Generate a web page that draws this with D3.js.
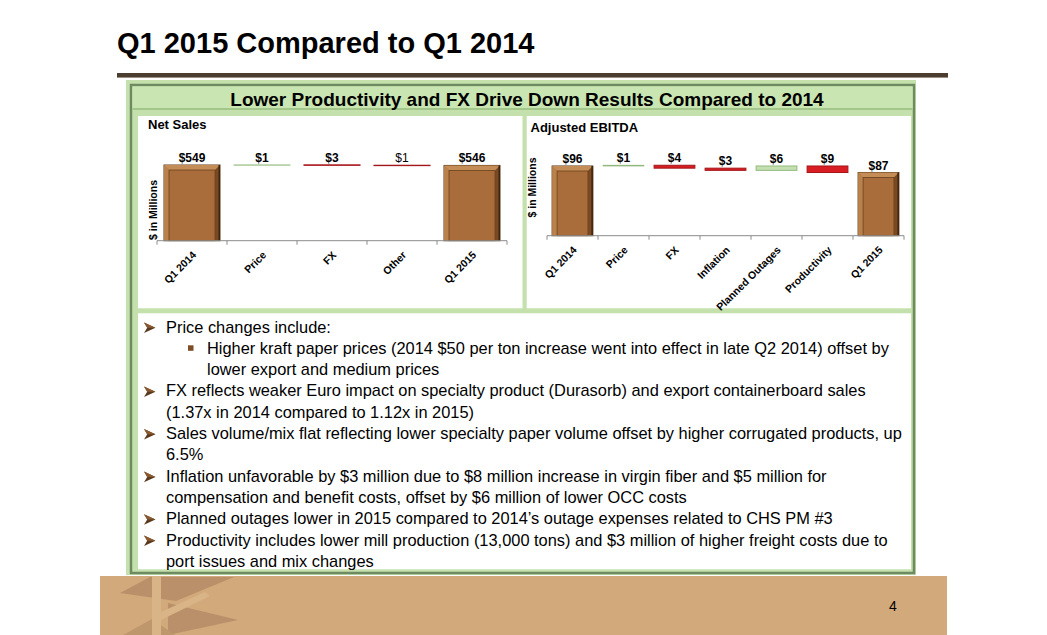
<!DOCTYPE html>
<html>
<head>
<meta charset="utf-8">
<script src="https://cdn.jsdelivr.net/npm/d3@7"></script>
<style>
  html, body { margin: 0; padding: 0; background: #ffffff; }
  svg { display: block; font-family: "Liberation Sans", Arial, sans-serif; }
</style>
</head>
<body>
<script>
// ---------------- DATA ----------------
const slideTitle = "Q1 2015 Compared to Q1 2014";
const headerText = "Lower Productivity and FX Drive Down Results Compared to 2014";
const pageNumber = "4";

const netTitle = "Net Sales";
const netCategories = ["Q1 2014", "Price", "FX", "Other", "Q1 2015"];
const netValues = [549, 1, -3, -1, 546];
const netKinds = ["total", "delta", "delta", "delta", "total"];

const ebitdaTitle = "Adjusted EBITDA";
const ebitdaCategories = ["Q1 2014", "Price", "FX", "Inflation", "Planned Outages", "Productivity", "Q1 2015"];
const ebitdaValues = [96, 1, -4, -3, 6, -9, 87];
const ebitdaKinds = ["total", "delta", "delta", "delta", "delta", "delta", "total"];

const yAxisTitle = "$ in Millions";

const bulletLines = [
  { bullet: "arrow", level: 1, text: "Price changes include:" },
  { bullet: "square", level: 2, text: "Higher kraft paper prices (2014 $50 per ton increase went into effect in late Q2 2014) offset by" },
  { bullet: "none", level: 2, text: "lower export and medium prices" },
  { bullet: "arrow", level: 1, text: "FX reflects weaker Euro impact on specialty product (Durasorb) and export containerboard sales" },
  { bullet: "none", level: 1, text: "(1.37x in 2014 compared to 1.12x in 2015)" },
  { bullet: "arrow", level: 1, text: "Sales volume/mix flat reflecting lower specialty paper volume offset by higher corrugated products, up" },
  { bullet: "none", level: 1, text: "6.5%" },
  { bullet: "arrow", level: 1, text: "Inflation unfavorable by $3 million due to $8 million increase in virgin fiber and $5 million for" },
  { bullet: "none", level: 1, text: "compensation and benefit costs, offset by $6 million of lower OCC costs" },
  { bullet: "arrow", level: 1, text: "Planned outages lower in 2015 compared to 2014\u2019s outage expenses related to CHS PM #3" },
  { bullet: "arrow", level: 1, text: "Productivity includes lower mill production (13,000 tons) and $3 million of higher freight costs due to" },
  { bullet: "none", level: 1, text: "port issues and mix changes" }
];

// label styling (not data)
const regularWeightLabels = new Set(["Other"]);

// ---------------- DRAW ----------------
const W = 1047, H = 635;
const svg = d3.select("body").append("svg").attr("width", W).attr("height", H);

svg.append("rect").attr("width", W).attr("height", H).attr("fill", "#ffffff");

// Title
svg.append("text").attr("x", 117).attr("y", 53)
  .attr("font-size", 29).attr("font-weight", "bold").attr("fill", "#000")
  .text(slideTitle);

// Rule
svg.append("rect").attr("x", 117).attr("y", 73).attr("width", 831).attr("height", 4).attr("fill", "#4b3e30");
svg.append("rect").attr("x", 117).attr("y", 77).attr("width", 831).attr("height", 1).attr("fill", "#9a8f84");

// Footer band
svg.append("rect").attr("x", 100).attr("y", 576).attr("width", 847).attr("height", 59).attr("fill", "#d2a97b");
// stylised logo
const logo = svg.append("g");
logo.append("path").attr("d", "M120,593 L150,577 L234,577 L176,601 Z").attr("fill", "#b99069");
logo.append("path").attr("d", "M168,603 L238,620 L168,635 Z").attr("fill", "#b99069");
logo.append("path").attr("d", "M123,635 L152,619 L175,635 Z").attr("fill", "#bf976d");
logo.append("rect").attr("x", 152).attr("y", 576).attr("width", 9).attr("height", 59).attr("fill", "#d8b487");
logo.append("path").attr("d", "M161,612 L205,592 L210,596 L161,620 Z").attr("fill", "#d8b487");

svg.append("text").attr("x", 893).attr("y", 611).attr("text-anchor", "middle")
  .attr("font-size", 14).attr("fill", "#000").text(pageNumber);

// Green frame
svg.append("rect").attr("x", 126).attr("y", 80).attr("width", 790).attr("height", 495).attr("fill", "#c4e0ad");
svg.append("rect").attr("x", 131).attr("y", 85).attr("width", 783).attr("height", 488)
  .attr("fill", "none").attr("stroke", "#6e8a60").attr("stroke-width", 2.5);
// header band
svg.append("rect").attr("x", 132.5).attr("y", 86.5).attr("width", 780).attr("height", 22).attr("fill", "#c9e6b2");
svg.append("rect").attr("x", 132.5).attr("y", 108).attr("width", 780).attr("height", 2).attr("fill", "#a3c68b");
svg.append("text").attr("x", 527).attr("y", 106).attr("text-anchor", "middle")
  .attr("font-size", 19).attr("font-weight", "bold").attr("fill", "#000").text(headerText);

// panels
svg.append("rect").attr("x", 138).attr("y", 116).attr("width", 384.5).attr("height", 192.3).attr("fill", "#fff");
svg.append("rect").attr("x", 526.7).attr("y", 116).attr("width", 384.3).attr("height", 192.3).attr("fill", "#fff");
svg.append("rect").attr("x", 138).attr("y", 313.3).attr("width", 773).attr("height", 256).attr("fill", "#fff");

// ---------- waterfall ----------
function buildBars(cats, vals, kinds) {
  let run = 0;
  return cats.map((c, i) => {
    const v = vals[i];
    if (kinds[i] === "total") { run = v; return { c, v, y0: 0, y1: v, kind: "total" }; }
    const y0 = run; run += v;
    return { c, v, y0, y1: run, kind: v >= 0 ? "up" : "down" };
  });
}

function drawTotal(g, x0, w, yTop, yBot) {
  const x1 = x0 + w, b = 5;
  g.append("rect").attr("x", x0).attr("y", yTop).attr("width", w).attr("height", yBot - yTop)
    .attr("fill", "#b07642").attr("stroke", "#5c3817").attr("stroke-width", 1);
  g.append("path").attr("d", `M${x0},${yTop} L${x1},${yTop} L${x1-b},${yTop+b} L${x0+b},${yTop+b} Z`).attr("fill", "#c48d58");
  g.append("path").attr("d", `M${x0},${yTop} L${x0+b},${yTop+b} L${x0+b},${yBot} L${x0},${yBot} Z`).attr("fill", "#b9814b");
  g.append("path").attr("d", `M${x1},${yTop} L${x1},${yBot} L${x1-b},${yBot} L${x1-b},${yTop+b} Z`).attr("fill", "#7a4a22");
  g.append("rect").attr("x", x1 - 1.5).attr("y", yTop).attr("width", 1.5).attr("height", yBot - yTop).attr("fill", "#3e2410");
  g.append("rect").attr("x", x0 + b).attr("y", yTop + b).attr("width", w - 2 * b).attr("height", yBot - yTop - b)
    .attr("fill", "#a86d3a").attr("stroke", "#6e421d").attr("stroke-width", 0.8);
}

function waterfall(opt) {
  const g = svg.append("g");
  const bars = buildBars(opt.categories, opt.values, opt.kinds);
  const x = d3.scaleBand().domain(opt.categories).range(opt.xRange).paddingInner(0.2).paddingOuter(0.1);
  const y = d3.scaleLinear().domain(opt.yDomain).range(opt.yRange);
  const axisY = y(0);

  // panel title
  g.append("text").attr("x", opt.titleX).attr("y", opt.titleY)
    .attr("font-size", 13).attr("font-weight", "bold").attr("fill", "#000").text(opt.title);

  // y axis title
  g.append("text").attr("transform", `translate(${opt.yTitleX},${opt.yTitleY}) rotate(-90)`)
    .attr("text-anchor", "middle").attr("font-size", 10.5).attr("font-weight", "bold").attr("fill", "#000")
    .text(yAxisTitle);

  // bars
  bars.forEach(d => {
    const bx = x(d.c), bw = x.bandwidth();
    if (d.kind === "total") {
      drawTotal(g, bx, bw, y(d.y1), axisY);
    } else {
      const top = y(Math.max(d.y0, d.y1));
      const h = Math.max(Math.abs(y(d.y0) - y(d.y1)), 0.3);
      const up = d.kind === "up";
      g.append("rect").attr("x", bx).attr("y", top).attr("width", bw).attr("height", h)
        .attr("fill", up ? "#c5e0b0" : "#d81e22")
        .attr("stroke", up ? "#93b97f" : "#a3161a").attr("stroke-width", h < 1 ? (up ? 0.8 : 1.1) : 1);
    }
  });

  // axis
  const axis = g.append("g").attr("transform", `translate(0,${axisY})`);
  axis.append("line").attr("x1", opt.xRange[0]).attr("x2", opt.xRange[1]).attr("stroke", "#8c8c8c").attr("stroke-width", 1);
  const bounds = opt.categories.map(c => x(c) - (x.step() - x.bandwidth()) / 2).concat([opt.xRange[1]]);
  axis.selectAll("line.tick").data(bounds).enter().append("line").attr("class", "tick")
    .attr("x1", d => d).attr("x2", d => d).attr("y1", 0).attr("y2", 4)
    .attr("stroke", "#8c8c8c").attr("stroke-width", 1);

  // category labels
  g.selectAll("text.cat").data(opt.categories).enter().append("text").attr("class", "cat")
    .attr("transform", c => `translate(${x(c) + x.bandwidth() / 2 + 5},${axisY + 15}) rotate(-45)`)
    .attr("text-anchor", "end").attr("font-size", 10.5).attr("font-weight", "bold").attr("fill", "#000")
    .text(c => c);

  // value labels
  g.selectAll("text.val").data(bars).enter().append("text").attr("class", "val")
    .attr("x", d => x(d.c) + x.bandwidth() / 2)
    .attr("y", d => y(Math.max(d.y0, d.y1)) - 3)
    .attr("text-anchor", "middle").attr("font-size", 12)
    .attr("font-weight", d => regularWeightLabels.has(d.c) ? "normal" : "bold")
    .attr("fill", "#000")
    .text(d => "$" + Math.abs(d.v));
}

waterfall({
  title: netTitle, categories: netCategories, values: netValues, kinds: netKinds,
  xRange: [157, 507], yDomain: [0, 700], yRange: [240.7, 144.2],
  titleX: 148, titleY: 128.5, yTitleX: 157, yTitleY: 210
});

waterfall({
  title: ebitdaTitle, categories: ebitdaCategories, values: ebitdaValues, kinds: ebitdaKinds,
  xRange: [547, 904], yDomain: [0, 130], yRange: [235.7, 141.3],
  titleX: 530.5, titleY: 131.5, yTitleX: 536, yTitleY: 187.5
});

// ---------- bullet text ----------
const tg = svg.append("g");
const lineStep = 21.3, firstBase = 332.5;
bulletLines.forEach((l, i) => {
  const base = firstBase + i * lineStep;
  const tx = l.level === 1 ? 166 : 207;
  if (l.bullet === "arrow") {
    const ax = 144, cy = base - 4.7;
    tg.append("path")
      .attr("d", `M${ax},${cy - 5.3} L${ax + 11.5},${cy} L${ax},${cy + 5.3} L${ax + 3.2},${cy} Z`)
      .attr("fill", "#5a3a1e");
    tg.append("path")
      .attr("d", `M${ax},${cy - 5.3} L${ax + 11.5},${cy} L${ax + 3.2},${cy} Z`)
      .attr("fill", "#8a5a30");
  } else if (l.bullet === "square") {
    tg.append("rect").attr("x", 188).attr("y", base - 8.5).attr("width", 5.5).attr("height", 5.5).attr("fill", "#7e4d27");
  }
  tg.append("text").attr("x", tx).attr("y", base).attr("font-size", 16.4).attr("fill", "#000").text(l.text);
});
</script>
</body>
</html>
